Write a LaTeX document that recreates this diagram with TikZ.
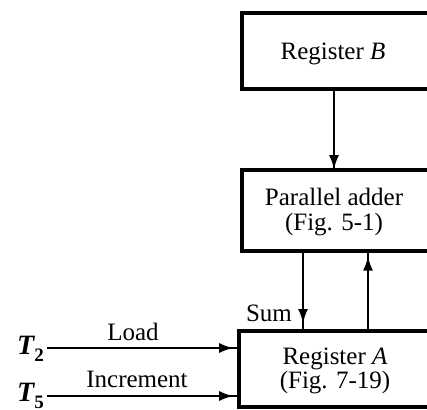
\documentclass[tikz,border=0pt]{standalone}
\usepackage{fontspec}
\setmainfont{Liberation Serif}
\usetikzlibrary{arrows.meta,decorations.markings}
\newcommand{\lowsub}[1]{\raisebox{-7pt}{\fontsize{19}{21}\selectfont\upshape\bfseries #1}}
\tikzset{
  box/.style={draw, line width=4.5pt, inner sep=0pt, align=center, font=\fontsize{25}{29}\selectfont},
  lbl/.style={inner sep=0pt, font=\fontsize{25}{29}\selectfont},
  tlbl/.style={inner sep=0pt, font=\fontsize{28}{32}\selectfont\bfseries\itshape},
  wire/.style={line width=1.8pt},
  arrat/.style={postaction={decorate, decoration={markings, mark=at position #1 with {\arrow{Latex[length=14pt,width=10pt]}}}}},
}
\begin{document}
\begin{tikzpicture}[x=1pt,y=-1pt]
\clip (0,0) rectangle (427,409);
\fill[white] (0,0) rectangle (427,409);
% boxes (right sides lie beyond the picture edge)
\node[box, minimum width=188pt, minimum height=76pt] (regB) at (336,51) {};
\node[lbl] (tB) at (333,54) {Register \textit{B}};
\node[box, minimum width=188pt, minimum height=81pt] (add) at (336,210.5) {};
\node[lbl, align=center] (tAdd) at (334,212) {Parallel adder\\[-4pt](Fig. 5-1)};
\node[box, minimum width=191pt, minimum height=76pt] (regA) at (334.5,369) {};
\node[lbl, align=center] (tA) at (335,371) {Register \textit{A}\\[-5pt](Fig. 7-19)};
% connection points
\coordinate (b1) at (334,89);
\coordinate (a1) at (334,170);
\coordinate (s1) at (303,251);
\coordinate (s2) at (303,331);
\coordinate (u1) at (368,331);
\coordinate (u2) at (368,251);
\coordinate (l1) at (47,348);
\coordinate (l2) at (241,348);
\coordinate (i1) at (47,396);
\coordinate (i2) at (241,396);
\draw[wire, arrat=0.99] (b1) -- (a1);
\draw[wire, arrat=0.9] (s1) -- (s2);
\draw[wire, arrat=0.93] (u1) -- (u2);
\draw[wire, arrat=0.96] (l1) -- (l2);
\draw[wire, arrat=0.96] (i1) -- (i2);
% labels
\node[lbl] (sum) at (269,313) {Sum};
\node[lbl] (load) at (133,332) {Load};
\node[lbl] (inc) at (137,379) {Increment};
\node[tlbl, anchor=base east] (t2) at (44,354) {T\lowsub{2}};
\node[tlbl, anchor=base east] (t5) at (44,401) {T\lowsub{5}};
\end{tikzpicture}
\end{document}
